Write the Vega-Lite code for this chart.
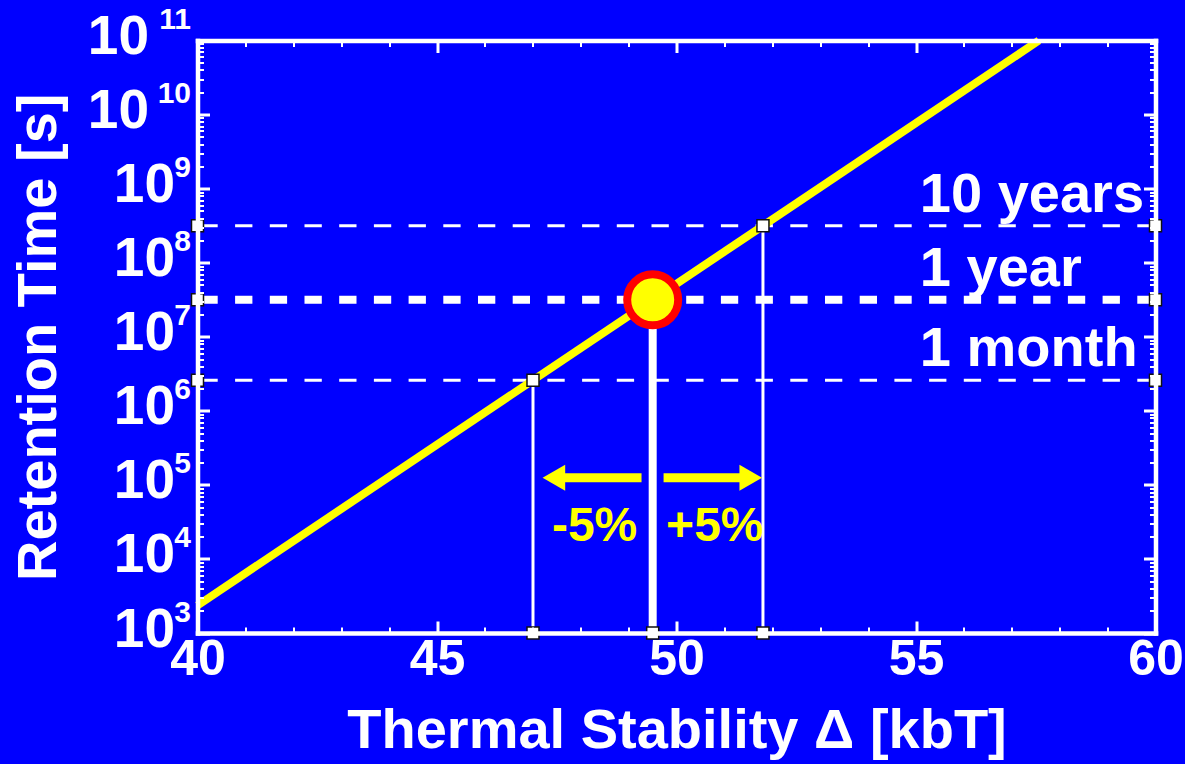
{
  "$schema": "https://vega.github.io/schema/vega-lite/v6.json",
  "width": 958,
  "height": 592.5,
  "autosize": {"type": "none"},
  "padding": {"left": 197.5, "top": 40.5, "right": 29.5, "bottom": 131},
  "background": "#0000ff",
  "config": {
    "view": {"stroke": null},
    "font": "Liberation Sans",
    "axis": {
      "grid": false,
      "domainColor": "#ffffff",
      "domainWidth": 4.5,
      "domainCap": "square",
      "tickColor": "#ffffff",
      "labelColor": "#ffffff",
      "titleColor": "#ffffff",
      "labelFont": "Liberation Sans",
      "labelFontWeight": "bold",
      "titleFont": "Liberation Sans",
      "titleFontWeight": "bold",
      "labelOverlap": false,
      "labelFlush": false,
      "labelBound": false,
      "zindex": 1
    }
  },
  "datasets": {
    "curve": [
      {"delta": 40, "seconds": 2354},
      {"delta": 57.565, "seconds": 1e11}
    ],
    "guides": [
      {"period": "10 years", "kind": "level", "delta": 40, "seconds": 3.1536e8},
      {"period": "10 years", "kind": "level", "delta": 60, "seconds": 3.1536e8},
      {"period": "10 years", "kind": "drop", "delta": 51.805, "seconds": 3.1536e8},
      {"period": "10 years", "kind": "drop", "delta": 51.805, "seconds": 1000},
      {"period": "1 year", "kind": "level", "delta": 40, "seconds": 3.1536e7},
      {"period": "1 year", "kind": "level", "delta": 60, "seconds": 3.1536e7},
      {"period": "1 year", "kind": "drop", "delta": 49.503, "seconds": 3.1536e7},
      {"period": "1 year", "kind": "drop", "delta": 49.503, "seconds": 1000},
      {"period": "1 month", "kind": "level", "delta": 40, "seconds": 2.592e6},
      {"period": "1 month", "kind": "level", "delta": 60, "seconds": 2.592e6},
      {"period": "1 month", "kind": "drop", "delta": 47.004, "seconds": 2.592e6},
      {"period": "1 month", "kind": "drop", "delta": 47.004, "seconds": 1000}
    ],
    "periods": [
      {"period": "10 years", "delta": 51.805, "seconds": 3.1536e8},
      {"period": "1 year", "delta": 49.503, "seconds": 3.1536e7},
      {"period": "1 month", "delta": 47.004, "seconds": 2.592e6}
    ],
    "shifts": [
      {"shift": "-5%", "tail": 49.27, "head": 47.44, "labelDelta": 48.29, "seconds": 1.25e5},
      {"shift": "+5%", "tail": 49.73, "head": 51.55, "labelDelta": 50.8, "seconds": 1.25e5}
    ]
  },
  "resolve": {"axis": {"x": "independent", "y": "independent"}},
  "layer": [
    {
      "data": {"name": "guides"},
      "transform": [{"filter": "datum.kind === 'level' && datum.period !== '1 year'"}],
      "mark": {"type": "line", "color": "#ffffff", "strokeWidth": 3, "strokeDash": [17.3, 17.4], "strokeDashOffset": 31.8},
      "encoding": {
        "x": {"field": "delta", "type": "quantitative", "axis": null},
        "y": {"field": "seconds", "type": "quantitative", "scale": {"type": "log"}, "axis": null},
        "detail": {"field": "period"}
      }
    },
    {
      "data": {"name": "guides"},
      "transform": [{"filter": "datum.kind === 'level' && datum.period === '1 year'"}],
      "mark": {"type": "line", "color": "#ffffff", "strokeWidth": 8, "strokeDash": [17.3, 17.4], "strokeDashOffset": 31.8},
      "encoding": {
        "x": {"field": "delta", "type": "quantitative", "axis": null},
        "y": {"field": "seconds", "type": "quantitative", "scale": {"type": "log"}, "axis": null},
        "detail": {"field": "period"}
      }
    },
    {
      "data": {"name": "guides"},
      "transform": [{"filter": "datum.kind === 'drop' && datum.period !== '1 year'"}],
      "mark": {"type": "line", "color": "#ffffff", "strokeWidth": 3},
      "encoding": {
        "x": {"field": "delta", "type": "quantitative", "axis": null},
        "y": {"field": "seconds", "type": "quantitative", "scale": {"type": "log"}, "axis": null},
        "detail": {"field": "period"}
      }
    },
    {
      "data": {"name": "guides"},
      "transform": [{"filter": "datum.kind === 'drop' && datum.period === '1 year'"}],
      "mark": {"type": "line", "color": "#ffffff", "strokeWidth": 8},
      "encoding": {
        "x": {"field": "delta", "type": "quantitative", "axis": null},
        "y": {"field": "seconds", "type": "quantitative", "scale": {"type": "log"}, "axis": null},
        "detail": {"field": "period"}
      }
    },
    {
      "data": {"name": "curve"},
      "mark": {"type": "line", "color": "#ffff00", "strokeWidth": 8},
      "encoding": {
        "x": {
          "field": "delta",
          "type": "quantitative",
          "scale": {"domain": [40, 60], "nice": false, "zero": false},
          "axis": {
            "orient": "bottom",
            "zindex": 1,
            "domainWidth": 4.5,
            "values": [40, 41, 42, 43, 44, 45, 46, 47, 48, 49, 50, 51, 52, 53, 54, 55, 56, 57, 58, 59, 60],
            "tickSize": {"condition": {"test": "datum.value % 5 === 0", "value": -12}, "value": -6},
            "tickWidth": {"condition": {"test": "datum.value % 5 === 0", "value": 3}, "value": 2},
            "labelExpr": "datum.value % 5 === 0 ? datum.label : ''",
            "labelFontSize": 50,
            "labelPadding": 13,
            "labelBaseline": "top",
            "title": "Thermal Stability Δ [kbT]",
            "titleFontSize": 56,
            "titlePadding": 13
          }
        },
        "y": {
          "field": "seconds",
          "type": "quantitative",
          "scale": {"type": "log", "domain": [1000, 1e11], "nice": false},
          "axis": {
            "orient": "left",
            "zindex": 1,
            "domainWidth": 4.5,
            "values": [1e3, 2e3, 3e3, 4e3, 5e3, 6e3, 7e3, 8e3, 9e3, 1e4, 2e4, 3e4, 4e4, 5e4, 6e4, 7e4, 8e4, 9e4, 1e5, 2e5, 3e5, 4e5, 5e5, 6e5, 7e5, 8e5, 9e5, 1e6, 2e6, 3e6, 4e6, 5e6, 6e6, 7e6, 8e6, 9e6, 1e7, 2e7, 3e7, 4e7, 5e7, 6e7, 7e7, 8e7, 9e7, 1e8, 2e8, 3e8, 4e8, 5e8, 6e8, 7e8, 8e8, 9e8, 1e9, 2e9, 3e9, 4e9, 5e9, 6e9, 7e9, 8e9, 9e9, 1e10, 2e10, 3e10, 4e10, 5e10, 6e10, 7e10, 8e10, 9e10, 1e11],
            "tickSize": {"condition": {"test": "abs(log(datum.value) / LN10 - round(log(datum.value) / LN10)) < 1e-6", "value": -12}, "value": -6},
            "tickWidth": {"condition": {"test": "abs(log(datum.value) / LN10 - round(log(datum.value) / LN10)) < 1e-6", "value": 3}, "value": 2},
            "labelExpr": "datum.value < 5e9 && abs(log(datum.value) / LN10 - round(log(datum.value) / LN10)) < 1e-6 ? '10' : ''",
            "labelFontSize": 55,
            "labelBaseline": "middle",
            "labelOffset": -4,
            "labelPadding": 35,
            "title": "Retention Time [s]",
            "titleFontSize": 56,
            "titlePadding": 46
          }
        }
      }
    },
    {
      "data": {"name": "shifts"},
      "mark": {"type": "rule", "color": "#ffff00", "strokeWidth": 9},
      "encoding": {
        "x": {"field": "tail", "type": "quantitative", "axis": null},
        "x2": {"field": "head"},
        "y": {"field": "seconds", "type": "quantitative", "scale": {"type": "log"}, "axis": null}
      }
    },
    {
      "data": {"name": "shifts"},
      "mark": {"type": "point", "filled": true, "color": "#ffff00", "opacity": 1, "size": 680},
      "encoding": {
        "x": {"field": "head", "type": "quantitative", "axis": null},
        "y": {"field": "seconds", "type": "quantitative", "scale": {"type": "log"}, "axis": null},
        "shape": {"field": "shift", "type": "nominal", "scale": {"domain": ["-5%", "+5%"], "range": ["triangle-left", "triangle-right"]}, "legend": null}
      }
    },
    {
      "data": {"name": "shifts"},
      "mark": {"type": "text", "color": "#ffff00", "fontSize": 48, "fontWeight": "bold", "align": "center", "baseline": "alphabetic", "dy": 63},
      "encoding": {
        "x": {"field": "labelDelta", "type": "quantitative", "axis": null},
        "y": {"field": "seconds", "type": "quantitative", "scale": {"type": "log"}, "axis": null},
        "text": {"field": "shift", "type": "nominal"}
      }
    },
    {
      "data": {"name": "periods"},
      "mark": {"type": "text", "color": "#ffffff", "fontSize": 56, "fontWeight": "bold", "align": "left", "baseline": "alphabetic", "dy": -14},
      "encoding": {
        "x": {"datum": 55.08, "type": "quantitative", "axis": null},
        "y": {"field": "seconds", "type": "quantitative", "scale": {"type": "log"}, "axis": null},
        "text": {"field": "period", "type": "nominal"}
      }
    },
    {
      "data": {"name": "guides"},
      "mark": {"type": "square", "size": 144, "color": "#ffffff", "opacity": 1, "stroke": "#111111", "strokeWidth": 1.5},
      "encoding": {
        "x": {"field": "delta", "type": "quantitative", "axis": null},
        "y": {"field": "seconds", "type": "quantitative", "scale": {"type": "log"}, "axis": null}
      }
    },
    {
      "data": {"name": "periods"},
      "transform": [{"filter": "datum.period === '1 year'"}],
      "mark": {"type": "circle", "size": 2600, "color": "#ffff00", "opacity": 1, "stroke": "#ff0000", "strokeWidth": 8},
      "encoding": {
        "x": {"field": "delta", "type": "quantitative", "axis": null},
        "y": {"field": "seconds", "type": "quantitative", "scale": {"type": "log"}, "axis": null}
      }
    },
    {
      "data": {"name": "curve"},
      "mark": {"type": "point", "opacity": 0},
      "encoding": {
        "x": {
          "field": "delta",
          "type": "quantitative",
          "axis": {
            "orient": "top",
            "zindex": 1,
            "domainWidth": 4.5,
            "values": [40, 41, 42, 43, 44, 45, 46, 47, 48, 49, 50, 51, 52, 53, 54, 55, 56, 57, 58, 59, 60],
            "tickSize": {"condition": {"test": "datum.value % 5 === 0", "value": -12}, "value": -6},
            "tickWidth": {"condition": {"test": "datum.value % 5 === 0", "value": 3}, "value": 2},
            "labels": false,
            "title": null
          }
        },
        "y": {
          "field": "seconds",
          "type": "quantitative",
          "scale": {"type": "log"},
          "axis": {
            "orient": "right",
            "zindex": 1,
            "domainWidth": 4.5,
            "values": [1e3, 2e3, 3e3, 4e3, 5e3, 6e3, 7e3, 8e3, 9e3, 1e4, 2e4, 3e4, 4e4, 5e4, 6e4, 7e4, 8e4, 9e4, 1e5, 2e5, 3e5, 4e5, 5e5, 6e5, 7e5, 8e5, 9e5, 1e6, 2e6, 3e6, 4e6, 5e6, 6e6, 7e6, 8e6, 9e6, 1e7, 2e7, 3e7, 4e7, 5e7, 6e7, 7e7, 8e7, 9e7, 1e8, 2e8, 3e8, 4e8, 5e8, 6e8, 7e8, 8e8, 9e8, 1e9, 2e9, 3e9, 4e9, 5e9, 6e9, 7e9, 8e9, 9e9, 1e10, 2e10, 3e10, 4e10, 5e10, 6e10, 7e10, 8e10, 9e10, 1e11],
            "tickSize": {"condition": {"test": "abs(log(datum.value) / LN10 - round(log(datum.value) / LN10)) < 1e-6", "value": -12}, "value": -6},
            "tickWidth": {"condition": {"test": "abs(log(datum.value) / LN10 - round(log(datum.value) / LN10)) < 1e-6", "value": 3}, "value": 2},
            "labels": false,
            "title": null
          }
        }
      }
    },
    {
      "data": {"name": "curve"},
      "mark": {"type": "point", "opacity": 0},
      "encoding": {
        "x": {"field": "delta", "type": "quantitative", "axis": null},
        "y": {
          "field": "seconds",
          "type": "quantitative",
          "scale": {"type": "log"},
          "axis": {
            "orient": "left",
            "zindex": 1,
            "values": [1e10, 1e11],
            "labelExpr": "'10'",
            "ticks": false,
            "domain": false,
            "labelFontSize": 55,
            "labelBaseline": "middle",
            "labelOffset": -4,
            "labelPadding": 49,
            "title": null
          }
        }
      }
    },
    {
      "data": {"name": "curve"},
      "mark": {"type": "point", "opacity": 0},
      "encoding": {
        "x": {"field": "delta", "type": "quantitative", "axis": null},
        "y": {
          "field": "seconds",
          "type": "quantitative",
          "scale": {"type": "log"},
          "axis": {
            "orient": "left",
            "zindex": 1,
            "values": [1e3, 1e4, 1e5, 1e6, 1e7, 1e8, 1e9, 1e10, 1e11],
            "labelExpr": "format(round(log(datum.value) / LN10), 'd')",
            "ticks": false,
            "domain": false,
            "labelFontSize": 30,
            "labelBaseline": "middle",
            "labelOffset": -21,
            "labelPadding": 7,
            "title": null
          }
        }
      }
    }
  ]
}
